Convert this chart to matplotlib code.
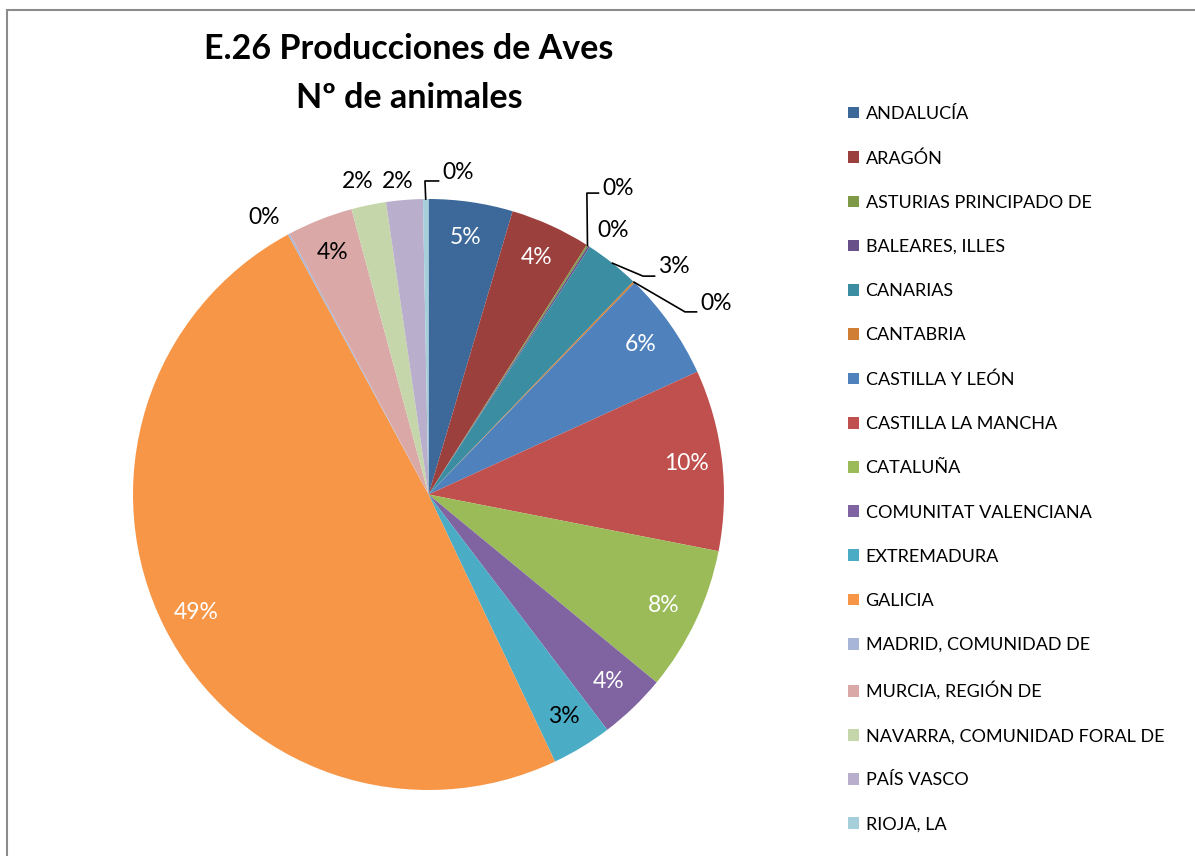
import numpy as np
import matplotlib
matplotlib.use("Agg")
import matplotlib.pyplot as plt
from matplotlib.patches import Patch, Rectangle

plt.rcParams["font.family"] = ["Lato", "DejaVu Sans"]

# share of birds (percent) per comunidad
regions = ["ANDALUCÍA", "ARAGÓN", "ASTURIAS PRINCIPADO DE", "BALEARES, ILLES",
           "CANARIAS", "CANTABRIA", "CASTILLA Y LEÓN", "CASTILLA LA MANCHA",
           "CATALUÑA", "COMUNITAT VALENCIANA", "EXTREMADURA", "GALICIA",
           "MADRID, COMUNIDAD DE", "MURCIA, REGIÓN DE", "NAVARRA, COMUNIDAD FORAL DE",
           "PAÍS VASCO", "RIOJA, LA"]
shares = [4.6, 4.4, 0.1, 0.1, 3.0, 0.1, 5.9, 9.9, 7.9, 3.7, 3.3, 49.2,
          0.1, 3.6, 1.9, 2.0, 0.3]
colors = ["#3D689A", "#9C403D", "#7E9A47", "#67508A", "#3B8DA2", "#D17E35",
          "#4F81BD", "#C0504D", "#9BBB59", "#8064A2", "#4BACC6", "#F79646",
          "#A7B6D8", "#D9A8A7", "#C6D6AB", "#B9AECB", "#A6CFDC"]
white_label = {0, 1, 6, 7, 8, 9, 11}

# labels that sit outside the pie: (text x, text y, align, elbow or None), pie units
outside = {
    2: (0.587, 1.037, "left", (0.536, 1.020)),
    3: (0.570, 0.895, "left", None),
    4: (0.777, 0.773, "left", (0.726, 0.739)),
    5: (0.919, 0.648, "left", (0.868, 0.618)),
    12: (-0.557, 0.936, "center", None),
    14: (-0.239, 1.058, "center", None),
    15: (-0.103, 1.058, "center", None),
    16: (0.046, 1.091, "left", (-0.012, 1.061)),
}

W, H = 1195, 856
fig = plt.figure(figsize=(W / 100, H / 100), dpi=100)
fig.patches.append(Rectangle((7 / W, -0.1), 1.2, 1 - 10 / H + 0.1, transform=fig.transFigure,
                             fill=False, edgecolor="#8C8C8C", linewidth=1.5))

cx, cy, r = 428.5, 494.5, 295.5
ax = fig.add_axes([(cx - r) / W, (H - cy - r) / H, 2 * r / W, 2 * r / H])
wedges, _ = ax.pie(shares, colors=colors, startangle=90, counterclock=False,
                   radius=1, wedgeprops=dict(linewidth=0))
ax.set_xlim(-1, 1)
ax.set_ylim(-1, 1)
ax.set_aspect("equal")
ax.axis("off")

total = sum(shares)
for i, w in enumerate(wedges):
    pct = f"{shares[i] / total * 100:.0f}%"
    mid = np.deg2rad((w.theta1 + w.theta2) / 2)
    if i in outside:
        tx, ty, align, elbow = outside[i]
        ax.text(tx, ty, pct, ha=align, va="center", fontsize=16.5, color="black")
        if elbow is not None:
            ex, ey = np.cos(mid), np.sin(mid)
            ax.plot([ex, elbow[0], tx - 0.012], [ey, elbow[1], elbow[1]],
                    color="black", linewidth=1.2, clip_on=False)
    else:
        ax.text(0.88 * np.cos(mid), 0.88 * np.sin(mid), pct, ha="center", va="center",
                fontsize=16.5, color="white" if i in white_label else "black")

fig.text(409 / W, 1 - 49 / H, "E.26 Producciones de Aves", ha="center", va="center",
         fontsize=24.5, fontweight="bold")
fig.text(409 / W, 1 - 98 / H, "Nº de animales", ha="center", va="center",
         fontsize=24.5, fontweight="bold")

handles = [Patch(facecolor=c, edgecolor="none") for c in colors]
fig.legend(handles, regions, loc="upper left", bbox_to_anchor=(848 / W, 1 - 106 / H),
           frameon=False, fontsize=13, borderpad=0, borderaxespad=0,
           handlelength=0.62, handleheight=0.62, handletextpad=0.35, labelspacing=1.56)

fig.savefig("out.png", dpi=100)
